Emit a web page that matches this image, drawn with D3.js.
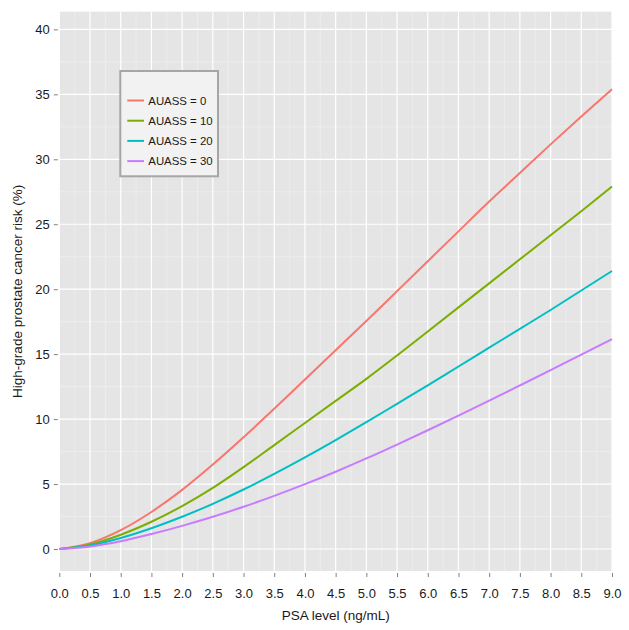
<!DOCTYPE html>
<html lang="en">
<head>
    <meta charset="UTF-8">
    <title>High-grade prostate cancer risk</title>
    <script type="text/javascript" src="https://d3js.org/d3.v7.min.js"></script>
    <style>
        body { margin: 0; background: #fff; }
        text { font-family: "Liberation Sans", Arial, sans-serif; }
    </style>
</head>
<body>
    <svg width="629" height="630"></svg>
    <script>
        // data
        var psa = [0, 0.5, 1, 1.5, 2, 2.5, 3, 3.5, 4, 4.5, 5, 5.5, 6, 6.5, 7, 7.5, 8, 8.5, 9];
        var auass0  = [0, 0.45, 1.45, 2.85, 4.55, 6.5, 8.6, 10.8, 13.05, 15.3, 17.55, 19.85, 22.15, 24.45, 26.75, 28.95, 31.15, 33.3, 35.4];
        var auass10 = [0, 0.35, 1.1, 2.1, 3.3, 4.7, 6.3, 8.0, 9.7, 11.4, 13.1, 14.9, 16.75, 18.6, 20.45, 22.3, 24.15, 26.0, 27.9];
        var auass20 = [0, 0.28, 0.85, 1.6, 2.48, 3.48, 4.58, 5.78, 7.05, 8.38, 9.76, 11.18, 12.6, 14.05, 15.5, 16.95, 18.4, 19.9, 21.4];
        var auass30 = [0, 0.2, 0.6, 1.15, 1.78, 2.48, 3.25, 4.09, 4.99, 5.95, 6.97, 8.04, 9.14, 10.27, 11.42, 12.59, 13.77, 14.97, 16.15];
        var seriesNames = ["AUASS = 0", "AUASS = 10", "AUASS = 20", "AUASS = 30"];
        var seriesValues = [auass0, auass10, auass20, auass30];
        var colors = ["#F8766D", "#7CAE00", "#00BFC4", "#C77CFF"];
        var xTicks = d3.range(0, 9.01, 0.5);
        var yTicks = [0, 5, 10, 15, 20, 25, 30, 35, 40];

        var svg = d3.select("svg");
        var panel = {left: 59.3, right: 612, top: 11.7, bottom: 571};

        var x = d3.scaleLinear().domain([0, 9]).range([panel.left, panel.right]);
        var y = d3.scaleLinear().domain([0, 40]).range([549, 29.4]);

        // panel background
        svg.append("rect")
            .attr("x", panel.left)
            .attr("y", panel.top)
            .attr("width", panel.right - panel.left)
            .attr("height", panel.bottom - panel.top)
            .attr("fill", "#E5E5E5");

        // minor grid
        var xMinor = d3.range(0.25, 9, 0.5);
        var yMinor = d3.range(-2.5, 42, 5).filter(function(v){ return y(v) > panel.top && y(v) < panel.bottom; });
        svg.append("g").selectAll("line").data(xMinor).enter().append("line")
            .attr("x1", function(d){ return x(d); }).attr("x2", function(d){ return x(d); })
            .attr("y1", panel.top).attr("y2", panel.bottom)
            .attr("stroke", "#F2F2F2").attr("stroke-width", 0.6);
        svg.append("g").selectAll("line").data(yMinor).enter().append("line")
            .attr("y1", function(d){ return y(d); }).attr("y2", function(d){ return y(d); })
            .attr("x1", panel.left).attr("x2", panel.right)
            .attr("stroke", "#F2F2F2").attr("stroke-width", 0.6);

        // major grid
        svg.append("g").selectAll("line").data(xTicks).enter().append("line")
            .attr("x1", function(d){ return x(d); }).attr("x2", function(d){ return x(d); })
            .attr("y1", panel.top).attr("y2", panel.bottom)
            .attr("stroke", "#fff").attr("stroke-width", 1.2);
        svg.append("g").selectAll("line").data(yTicks).enter().append("line")
            .attr("y1", function(d){ return y(d); }).attr("y2", function(d){ return y(d); })
            .attr("x1", panel.left).attr("x2", panel.right)
            .attr("stroke", "#fff").attr("stroke-width", 1.2);

        // Axises
        var xAxis = d3.axisBottom(x).tickValues(xTicks).tickFormat(d3.format(".1f")).tickSize(4).tickPadding(12);
        var yAxis = d3.axisLeft(y).tickValues(yTicks).tickSize(4).tickPadding(4);

        var gx = svg.append("g")
            .attr("transform", "translate(0," + (panel.bottom + 2) + ")")
            .call(xAxis);
        var gy = svg.append("g")
            .attr("transform", "translate(" + (panel.left - 1.5) + ",0)")
            .call(yAxis);
        [gx, gy].forEach(function(g){
            g.select(".domain").remove();
            g.selectAll(".tick line").attr("stroke", "#7F7F7F");
            g.selectAll(".tick text").attr("fill", "#1a1a1a").attr("font-size", 13);
        });

        svg.append("text")
            .attr("x", (panel.left + panel.right) / 2)
            .attr("y", 620)
            .attr("text-anchor", "middle")
            .attr("font-size", 13.5)
            .attr("fill", "#1a1a1a")
            .text("PSA level (ng/mL)");
        svg.append("text")
            .attr("transform", "translate(22," + ((panel.top + panel.bottom) / 2) + ") rotate(-90)")
            .attr("text-anchor", "middle")
            .attr("font-size", 13.5)
            .attr("fill", "#1a1a1a")
            .text("High-grade prostate cancer risk (%)");

        // Lines
        var line = d3.line()
            .x(function(d, i){ return x(psa[i]); })
            .y(function(d){ return y(d); })
            .curve(d3.curveMonotoneX);

        svg.append("g").selectAll("path").data(seriesValues).enter().append("path")
            .attr("d", line)
            .attr("fill", "none")
            .attr("stroke", function(d, i){ return colors[i]; })
            .attr("stroke-width", 2);

        // Legend
        var legend = svg.append("g");
        legend.append("rect")
            .attr("x", 120.3).attr("y", 71)
            .attr("width", 97.7).attr("height", 105.3)
            .attr("fill", "#F2F2F2")
            .attr("stroke", "#A6A6A6")
            .attr("stroke-width", 2);
        var items = legend.selectAll(".item").data(seriesNames).enter().append("g")
            .attr("transform", function(d, i){ return "translate(0," + (100.5 + i * 20.2) + ")"; });
        items.append("line")
            .attr("x1", 127.3).attr("x2", 144)
            .attr("stroke", function(d, i){ return colors[i]; })
            .attr("stroke-width", 2);
        items.append("text")
            .attr("x", 148.3)
            .attr("dy", "0.35em")
            .attr("font-size", 11.4)
            .attr("fill", "#1a1a1a")
            .text(function(d){ return d; });
    </script>
</body>
</html>
